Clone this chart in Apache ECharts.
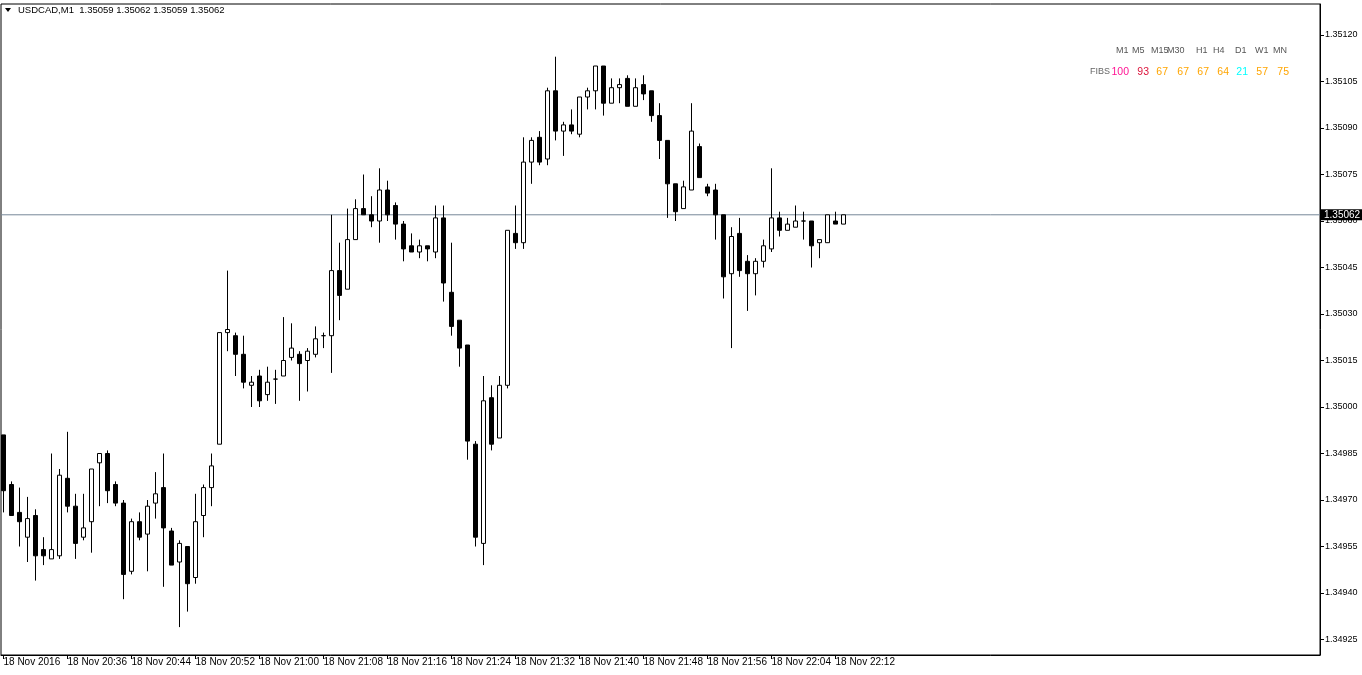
<!DOCTYPE html>
<html>
<head>
<meta charset="utf-8">
<script src="https://cdn.jsdelivr.net/npm/echarts@6/dist/echarts.min.js"></script>
<style>
html,body{margin:0;padding:0;background:#fff;}
#chart{width:1362px;height:675px;}
</style>
</head>
<body>
<div id="chart"></div>
<script>
// ---- data ----
const symbol = 'USDCAD,M1';
const xTickIndex = [0, 8, 16, 24, 32, 40, 48, 56, 64, 72, 80, 88, 96, 104];
const xTickLabels = ['18 Nov 2016', '18 Nov 20:36', '18 Nov 20:44', '18 Nov 20:52', '18 Nov 21:00', '18 Nov 21:08',
  '18 Nov 21:16', '18 Nov 21:24', '18 Nov 21:32', '18 Nov 21:40', '18 Nov 21:48', '18 Nov 21:56', '18 Nov 22:04', '18 Nov 22:12'];
const yTicks = [1.34925, 1.34940, 1.34955, 1.34970, 1.34985, 1.35000, 1.35015, 1.35030, 1.35045, 1.35060, 1.35075, 1.35090, 1.35105, 1.35120];

const opens = [
  1.34991, 1.34975, 1.34966, 1.34958, 1.34965, 1.34954, 1.34951, 1.34952, 1.34977, 1.34968,
  1.34958, 1.34963, 1.34982, 1.34985, 1.34975, 1.34969, 1.34947, 1.34963, 1.34959, 1.34969,
  1.34974, 1.34960, 1.34950, 1.34955, 1.34945, 1.34965, 1.34974, 1.34988, 1.35024, 1.35023,
  1.35017, 1.35007, 1.35010, 1.35004, 1.35009, 1.35010, 1.35016, 1.35017, 1.35015, 1.35017,
  1.35023, 1.35023, 1.35044, 1.35038, 1.35054, 1.35064, 1.35062, 1.35060, 1.35070, 1.35065,
  1.35059, 1.35052, 1.35050, 1.35052, 1.35050, 1.35061, 1.35037, 1.35028, 1.35020, 1.34988,
  1.34956, 1.35003, 1.34990, 1.35007, 1.35056, 1.35053, 1.35079, 1.35087, 1.35080, 1.35102,
  1.35089, 1.35091, 1.35088, 1.35100, 1.35102, 1.35110, 1.35098, 1.35103, 1.35106, 1.35097,
  1.35104, 1.35102, 1.35094, 1.35086, 1.35072, 1.35064, 1.35070, 1.35084, 1.35071, 1.35070,
  1.35062, 1.35043, 1.35056, 1.35047, 1.35043, 1.35047, 1.35051, 1.35061, 1.35057, 1.35058,
  1.35060, 1.35060, 1.35053, 1.35053, 1.35060, 1.35059];
const closes = [
  1.34973, 1.34965, 1.34963, 1.34964, 1.34952, 1.34952, 1.34954, 1.34978, 1.34968, 1.34956,
  1.34961, 1.34980, 1.34985, 1.34973, 1.34969, 1.34946, 1.34963, 1.34958, 1.34968, 1.34972,
  1.34961, 1.34949, 1.34956, 1.34943, 1.34963, 1.34974, 1.34981, 1.35024, 1.35025, 1.35017,
  1.35008, 1.35008, 1.35002, 1.35008, 1.35009, 1.35015, 1.35019, 1.35014, 1.35018, 1.35022,
  1.35023, 1.35044, 1.35036, 1.35054, 1.35064, 1.35062, 1.35060, 1.35070, 1.35062, 1.35059,
  1.35051, 1.35050, 1.35052, 1.35051, 1.35061, 1.35040, 1.35026, 1.35019, 1.34989, 1.34958,
  1.35002, 1.34988, 1.35007, 1.35057, 1.35053, 1.35079, 1.35086, 1.35079, 1.35102, 1.35089,
  1.35091, 1.35089, 1.35100, 1.35102, 1.35110, 1.35098, 1.35103, 1.35104, 1.35097, 1.35103,
  1.35101, 1.35094, 1.35086, 1.35072, 1.35063, 1.35071, 1.35089, 1.35074, 1.35069, 1.35062,
  1.35042, 1.35055, 1.35044, 1.35043, 1.35047, 1.35052, 1.35061, 1.35057, 1.35059, 1.35060,
  1.35060, 1.35052, 1.35054, 1.35062, 1.35059, 1.35062];
const lows = [
  1.34966, 1.34965, 1.34955, 1.34950, 1.34944, 1.34949, 1.34951, 1.34951, 1.34966, 1.34951,
  1.34957, 1.34953, 1.34968, 1.34969, 1.34968, 1.34938, 1.34946, 1.34957, 1.34947, 1.34964,
  1.34942, 1.34949, 1.34929, 1.34934, 1.34943, 1.34958, 1.34968, 1.34988, 1.35018, 1.35010,
  1.35006, 1.35000, 1.35000, 1.35002, 1.35001, 1.35010, 1.35015, 1.35002, 1.35005, 1.35016,
  1.35019, 1.35011, 1.35028, 1.35038, 1.35054, 1.35062, 1.35058, 1.35053, 1.35060, 1.35054,
  1.35047, 1.35050, 1.35048, 1.35047, 1.35048, 1.35034, 1.35023, 1.35013, 1.34983, 1.34955,
  1.34949, 1.34986, 1.34990, 1.35006, 1.35051, 1.35051, 1.35072, 1.35078, 1.35078, 1.35086,
  1.35081, 1.35088, 1.35087, 1.35096, 1.35096, 1.35094, 1.35098, 1.35098, 1.35097, 1.35097,
  1.35099, 1.35092, 1.35080, 1.35061, 1.35060, 1.35064, 1.35070, 1.35074, 1.35068, 1.35054,
  1.35035, 1.35019, 1.35042, 1.35031, 1.35036, 1.35045, 1.35050, 1.35055, 1.35057, 1.35058,
  1.35054, 1.35045, 1.35048, 1.35053, 1.35059, 1.35059];
const highs = [
  1.34991, 1.34976, 1.34974, 1.34971, 1.34967, 1.34958, 1.34985, 1.34980, 1.34992, 1.34972,
  1.34972, 1.34980, 1.34985, 1.34986, 1.34976, 1.34970, 1.34964, 1.34966, 1.34970, 1.34979,
  1.34985, 1.34961, 1.34957, 1.34955, 1.34972, 1.34975, 1.34985, 1.35024, 1.35044, 1.35024,
  1.35023, 1.35010, 1.35012, 1.35013, 1.35012, 1.35029, 1.35027, 1.35018, 1.35019, 1.35026,
  1.35024, 1.35062, 1.35053, 1.35064, 1.35067, 1.35075, 1.35068, 1.35077, 1.35073, 1.35066,
  1.35060, 1.35056, 1.35054, 1.35052, 1.35065, 1.35065, 1.35053, 1.35028, 1.35020, 1.34989,
  1.35010, 1.35007, 1.35010, 1.35057, 1.35065, 1.35087, 1.35087, 1.35089, 1.35103, 1.35113,
  1.35092, 1.35096, 1.35100, 1.35103, 1.35110, 1.35110, 1.35106, 1.35106, 1.35107, 1.35106,
  1.35107, 1.35102, 1.35098, 1.35086, 1.35072, 1.35073, 1.35098, 1.35085, 1.35072, 1.35072,
  1.35062, 1.35058, 1.35061, 1.35049, 1.35048, 1.35054, 1.35077, 1.35063, 1.35061, 1.35065,
  1.35063, 1.35060, 1.35054, 1.35062, 1.35063, 1.35062];

const fibFrames = ['M1', 'M5', 'M15', 'M30', 'H1', 'H4', 'D1', 'W1', 'MN'];
const fibValues = [100, 93, 67, 67, 67, 64, 21, 57, 75];
const fibColors = ['#FF1493', '#DC143C', '#FFA500', '#FFA500', '#FFA500', '#FFA500', '#00FFFF', '#FFA500', '#FFA500'];

// ---- layout constants ----
const FONT = 'Liberation Sans';
const X_MIN = -0.3125, X_MAX = 164.5625;
const frameX = [1116, 1132, 1151, 1167, 1196, 1213, 1235, 1255, 1273];
const valueRight = [1129, 1149, 1168, 1189, 1209, 1229, 1248, 1268, 1289];

const candleData = opens.map((o, i) => [i, o, closes[i], lows[i], highs[i]]);
const last = opens.length - 1;
const lastPrice = closes[last];
const titleText = symbol + '  ' + [opens[last], highs[last], lows[last], closes[last]].map(v => v.toFixed(5)).join(' ');

const graphics = [
  { type: 'polygon', shape: { points: [[5, 8], [11, 8], [8, 12]] }, style: { fill: '#000' } },
  { type: 'text', x: 18, y: 10, style: { text: titleText, font: '9.5px "' + FONT + '"', fill: '#000', textVerticalAlign: 'middle' } },
  { type: 'text', x: 1110, y: 72, style: { text: 'FIBS', font: '9px "' + FONT + '"', fill: '#666', textAlign: 'right', textVerticalAlign: 'middle' } }
];
fibFrames.forEach((f, i) => {
  graphics.push({ type: 'text', x: frameX[i], y: 51, style: { text: f, font: '9px "' + FONT + '"', fill: '#555', textVerticalAlign: 'middle' } });
  graphics.push({ type: 'text', x: valueRight[i], y: 72, style: { text: String(fibValues[i]), font: '10.5px "' + FONT + '"', fill: fibColors[i], textAlign: 'right', textVerticalAlign: 'middle' } });
});

const chart = echarts.init(document.getElementById('chart'), null, { renderer: 'canvas' });
chart.setOption({
  animation: false,
  backgroundColor: '#fff',
  grid: { left: 1, top: 4, right: 42, bottom: 20, show: true, borderColor: '#000', borderWidth: 1, backgroundColor: '#fff' },
  xAxis: {
    type: 'value', min: X_MIN, max: X_MAX,
    axisLine: { show: true, onZero: false, lineStyle: { color: '#000', width: 1 } },
    axisTick: { show: true, inside: false, customValues: xTickIndex, length: 4, lineStyle: { color: '#000' } },
    axisLabel: {
      customValues: xTickIndex, color: '#000', fontFamily: FONT, fontSize: 10, align: 'left', margin: 2,
      formatter: (v) => { const j = xTickIndex.indexOf(Math.round(v)); return j >= 0 ? xTickLabels[j] : ''; }
    },
    splitLine: { show: false }
  },
  yAxis: {
    type: 'value', position: 'right', min: 1.34920, max: 1.35130, scale: true,
    axisLine: { show: true, onZero: false, lineStyle: { color: '#000', width: 1 } },
    axisTick: { show: true, inside: false, customValues: yTicks, length: 4, lineStyle: { color: '#000' } },
    axisLabel: { customValues: yTicks, color: '#000', fontFamily: FONT, fontSize: 9, margin: 5, formatter: (v) => v.toFixed(5) },
    splitLine: { show: false }
  },
  series: [{
    type: 'line',
    data: [[X_MIN, lastPrice], [X_MAX, lastPrice]],
    showSymbol: false, silent: true, z: 1,
    lineStyle: { color: '#778899', width: 1 },
    endLabel: { show: true, distance: 1, formatter: () => lastPrice.toFixed(5), backgroundColor: '#000', color: '#fff', fontFamily: FONT, fontSize: 10, padding: [1, 3, 0, 3] }
  }, {
    type: 'candlestick',
    data: candleData,
    encode: { x: 0, y: [1, 2, 3, 4] },
    barWidth: 5, z: 3,
    itemStyle: { color: '#fff', color0: '#000', borderColor: '#000', borderColor0: '#000', borderColorDoji: '#000', borderWidth: 1 }
  }],
  graphic: graphics
});
</script>
</body>
</html>
